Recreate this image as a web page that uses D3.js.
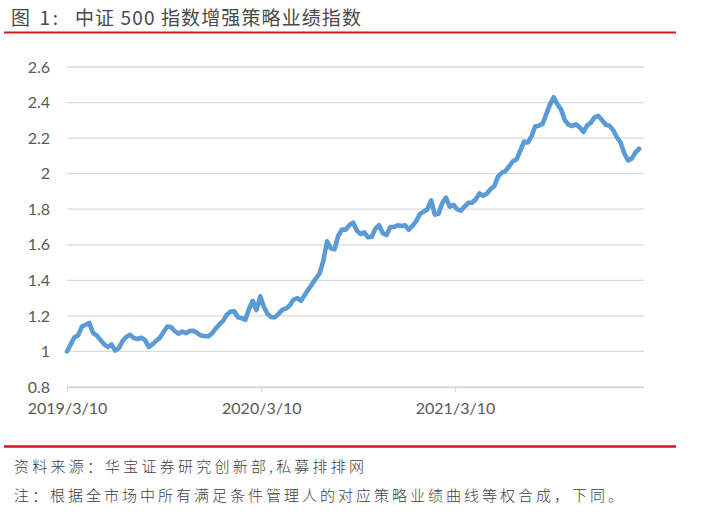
<!DOCTYPE html>
<html>
<head>
<meta charset="utf-8">
<script src="https://cdn.jsdelivr.net/npm/d3@7/dist/d3.min.js"></script>
<style>
  html, body { margin: 0; padding: 0; background: #fff; }
  svg { display: block; }
</style>
</head>
<body>
<svg id="chart" width="714" height="514"></svg>
<script>
// ---- data ----
const startDate = "2019-03-10";
const xTickLabels = ["2019/3/10", "2020/3/10", "2021/3/10"];
const yTickValues = [0.8, 1, 1.2, 1.4, 1.6, 1.8, 2, 2.2, 2.4, 2.6];
// weekly index values, starting 2019/3/10
const indexValues = [
  1.00, 1.04, 1.08, 1.09, 1.14, 1.15, 1.16, 1.105, 1.09, 1.065,
  1.04, 1.026, 1.04, 1.005, 1.02, 1.06, 1.083, 1.094, 1.075, 1.07,
  1.078, 1.064, 1.025, 1.04, 1.06, 1.077, 1.11, 1.14, 1.137, 1.115,
  1.10, 1.112, 1.103, 1.115, 1.116, 1.105, 1.09, 1.087, 1.085, 1.10,
  1.128, 1.152, 1.172, 1.206, 1.224, 1.226, 1.192, 1.187, 1.178, 1.24,
  1.285, 1.233, 1.31, 1.25, 1.21, 1.192, 1.193, 1.213, 1.235, 1.242,
  1.26, 1.292, 1.30, 1.285, 1.317, 1.35, 1.38, 1.41, 1.44, 1.51,
  1.62, 1.58, 1.574, 1.65, 1.685, 1.685, 1.71, 1.725, 1.68, 1.66,
  1.67, 1.642, 1.645, 1.69, 1.71, 1.665, 1.655, 1.70, 1.70, 1.71,
  1.705, 1.71, 1.685, 1.707, 1.735, 1.773, 1.786, 1.80, 1.85, 1.77,
  1.775, 1.835, 1.865, 1.815, 1.825, 1.80, 1.792, 1.815, 1.836, 1.836,
  1.855, 1.889, 1.875, 1.888, 1.913, 1.93, 1.983, 2.005, 2.015, 2.04,
  2.07, 2.08, 2.13, 2.18, 2.175, 2.21, 2.265, 2.27, 2.28, 2.335,
  2.39, 2.43, 2.39, 2.36, 2.30, 2.275, 2.268, 2.278, 2.26, 2.235,
  2.272, 2.287, 2.317, 2.325, 2.30, 2.275, 2.27, 2.245, 2.205, 2.175,
  2.115, 2.075, 2.085, 2.12, 2.14
];
const titleLabel = "图 1:";
const titleText = "中证 500 指数增强策略业绩指数";
const sourceText = "资料来源：华宝证券研究创新部,私募排排网";
const noteText = "注：根据全市场中所有满足条件管理人的对应策略业绩曲线等权合成，下同。";

// ---- build ----
const parse = d3.utcParse("%Y/%m/%d");
const t0 = d3.utcParse("%Y-%m-%d")(startDate);
const data = indexValues.map((v, i) => ({ date: d3.utcDay.offset(t0, 7 * i), value: v }));
const tickDates = xTickLabels.map(s => parse(s));

const svg = d3.select("#chart");
const plotLeft = 67, plotRight = 644, plotTop = 67, plotBottom = 387;

const x = d3.scaleUtc()
  .domain([tickDates[0], tickDates[2]])
  .range([plotLeft, 455]);
const y = d3.scaleLinear().domain([0.8, 2.6]).range([plotBottom, plotTop]);

// top red rule + title
svg.append("line").attr("x1", 4).attr("x2", 676).attr("y1", 32.5).attr("y2", 32.5)
  .attr("stroke", "#d0191b").attr("stroke-width", 2);
svg.append("text").attr("x", 11).attr("y", 25)
  .attr("font-family", "'Noto Sans CJK SC', sans-serif").attr("font-size", 19)
  .attr("fill", "#4a4a4a").attr("textLength", 47).attr("lengthAdjust", "spacing")
  .text(titleLabel);
svg.append("text").attr("x", 75).attr("y", 25)
  .attr("font-family", "'Noto Sans CJK SC', sans-serif").attr("font-size", 19)
  .attr("fill", "#4a4a4a").attr("textLength", 286).attr("lengthAdjust", "spacing")
  .text(titleText);

// grid
const grid = svg.append("g");
grid.selectAll("line").data(yTickValues).join("line")
  .attr("x1", plotLeft).attr("x2", plotRight)
  .attr("y1", d => y(d)).attr("y2", d => y(d))
  .attr("stroke", "#d9d9d9").attr("stroke-width", 1.3);

// y axis labels
const yAxis = d3.axisLeft(y).tickValues(yTickValues).tickSize(0).tickPadding(17)
  .tickFormat(d => String(+d.toFixed(1)));
const gy = svg.append("g").attr("transform", `translate(${plotLeft},0)`).call(yAxis);
gy.select(".domain").remove();
gy.selectAll("text").attr("font-family", "Lato, sans-serif").attr("font-size", 16).attr("fill", "#595959");

// x axis
const xAxis = d3.axisBottom(x).tickValues(tickDates).tickSize(5).tickPadding(11)
  .tickFormat((d, i) => xTickLabels[i]);
const gx = svg.append("g").attr("transform", `translate(0,${plotBottom})`).call(xAxis);
gx.select(".domain").attr("d", `M${plotLeft},0.5H${plotRight}`).attr("stroke", "#d9d9d9").attr("stroke-width", 1.3);
gx.selectAll(".tick line").attr("stroke", "#d9d9d9").attr("stroke-width", 1.3);
gx.selectAll("text").attr("font-family", "Lato, sans-serif").attr("font-size", 16).attr("fill", "#595959");

// line
const line = d3.line().x(d => x(d.date)).y(d => y(d.value)).curve(d3.curveLinear);
svg.append("path").datum(data).attr("d", line)
  .attr("fill", "none").attr("stroke", "#5b9bd5").attr("stroke-width", 4.6)
  .attr("stroke-linejoin", "round").attr("stroke-linecap", "round");

// bottom rule + footnotes
svg.append("line").attr("x1", 4).attr("x2", 676).attr("y1", 446.5).attr("y2", 446.5)
  .attr("stroke", "#d0191b").attr("stroke-width", 2.5);
svg.append("text").attr("x", 14).attr("y", 472)
  .attr("font-family", "'Noto Sans CJK SC', sans-serif").attr("font-size", 15).attr("font-weight", 300)
  .attr("fill", "#404040").attr("textLength", 350).attr("lengthAdjust", "spacing")
  .text(sourceText);
svg.append("text").attr("x", 14).attr("y", 501)
  .attr("font-family", "'Noto Sans CJK SC', sans-serif").attr("font-size", 15).attr("font-weight", 300)
  .attr("fill", "#404040").attr("textLength", 609).attr("lengthAdjust", "spacing")
  .text(noteText);
</script>
</body>
</html>
